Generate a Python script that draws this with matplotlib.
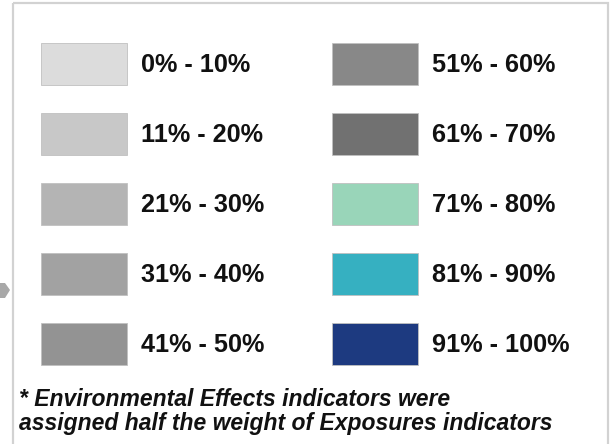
import matplotlib.pyplot as plt
from matplotlib.patches import Rectangle, Polygon

plt.rcParams['font.family'] = ['Liberation Sans', 'DejaVu Sans']

# legend classes, two columns of five
left_labels = ["0% - 10%", "11% - 20%", "21% - 30%", "31% - 40%", "41% - 50%"]
left_colors = ["#dcdcdc", "#c8c8c8", "#b4b4b4", "#a2a2a2", "#939393"]
right_labels = ["51% - 60%", "61% - 70%", "71% - 80%", "81% - 90%", "91% - 100%"]
right_colors = ["#888888", "#717171", "#99d5b9", "#36b0c1", "#1d3a80"]
note_lines = ["* Environmental Effects indicators were",
              "assigned half the weight of Exposures indicators"]

fig = plt.figure(figsize=(6.10, 4.44), dpi=100)
ax = fig.add_axes([0, 0, 1, 1])
ax.set_xlim(0, 610)
ax.set_ylim(444, 0)
ax.axis("off")

# outer frame (bottom edge runs off the picture)
ax.add_patch(Rectangle((12.5, 3.5), 595, 460, fill=False, ec="#d2d2d2", lw=1.6))
# small grey tab on the left edge
ax.add_patch(Polygon([(0, 283), (5, 283), (10, 290), (5, 298), (0, 298)],
                     closed=True, fc="#a8a8a8", ec="none"))

row_top = 43
row_step = 70
sw_w, sw_h = 86, 42
for col_x, labels, colors in [(41, left_labels, left_colors),
                              (332, right_labels, right_colors)]:
    for i, (lab, c) in enumerate(zip(labels, colors)):
        y = row_top + i * row_step
        ax.add_patch(Rectangle((col_x, y), sw_w, sw_h, fc=c, ec="#c0c0c0", lw=0.6))
        ax.text(col_x + sw_w + 14, y + sw_h / 2 + 1, lab, fontsize=18.2, fontweight="bold",
                va="center", ha="left", color="#111111")

for j, line in enumerate(note_lines):
    ax.text(19, 406 + j * 24, line, fontsize=16.5, fontweight="bold", fontstyle="italic",
            va="baseline", ha="left", color="#111111")

fig.savefig("out.png", dpi=100)
